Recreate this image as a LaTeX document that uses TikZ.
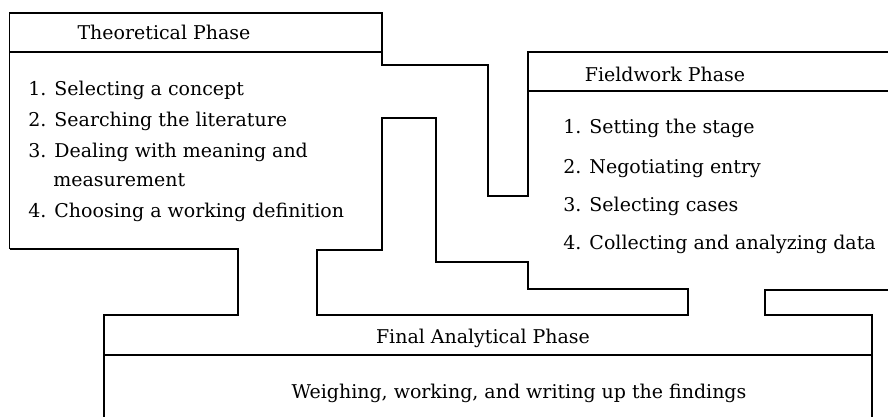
\documentclass[tikz,border=0pt]{standalone}
\usepackage{fontspec}
\setmainfont{DejaVu Serif}

\tikzset{
  phasetext/.style={font=\fontsize{10.8}{13}\selectfont,inner sep=0pt},
  pipe/.style={line width=1pt,line join=miter}
}

\begin{document}
\begin{tikzpicture}[x=0.02cm,y=-0.02cm]
      \useasboundingbox (0,0) rectangle (888,416);
      \draw [pipe] (9.5,249) -- (9.5,13) -- (382,13) -- (382,65) -- (488,65) -- (488,196)
        -- (528,196) -- (528,52) -- (892,52);
      \draw [pipe] (9.5,52) -- (382,52);
      \draw [pipe] (528,91) -- (892,91);
      \draw [pipe] (9.5,249) -- (238,249) -- (238,315) -- (104,315) -- (104,420);
      \draw [pipe] (317,250) -- (382,250) -- (382,118) -- (436,118) -- (436,262) -- (528,262)
        -- (528,289) -- (688,289) -- (688,315) -- (317,315) -- cycle;
      \draw [pipe] (892,290) -- (765,290) -- (765,315) -- (872,315) -- (872,420);
      \draw [pipe] (104,355) -- (872,355);
      \node [phasetext, anchor=base] (theo) at (164,39) {Theoretical Phase};
      \node [phasetext, anchor=base] (field) at (665,81) {Fieldwork Phase};
      \node [phasetext, anchor=base] (final) at (483,343) {Final Analytical Phase};
      \node [phasetext, anchor=base] (weigh) at (519,398) {Weighing, working, and writing up the findings};
      \foreach \x/\y/\txt [count=\i] in {28/95/{1. Selecting a concept}, 28/126/{2. Searching the literature},
          28/157/{3. Dealing with meaning and}, 53/186/{measurement}, 28/217/{4. Choosing a working definition}} {
        \node [phasetext, anchor=base west] (theo\i) at (\x,\y) {\txt};
      }
      \foreach \y/\txt [count=\i] in {133/{1. Setting the stage}, 173/{2. Negotiating entry},
          211/{3. Selecting cases}, 249/{4. Collecting and analyzing data}} {
        \node [phasetext, anchor=base west] (field\i) at (563,\y) {\txt};
      }
    \end{tikzpicture}
\end{document}
